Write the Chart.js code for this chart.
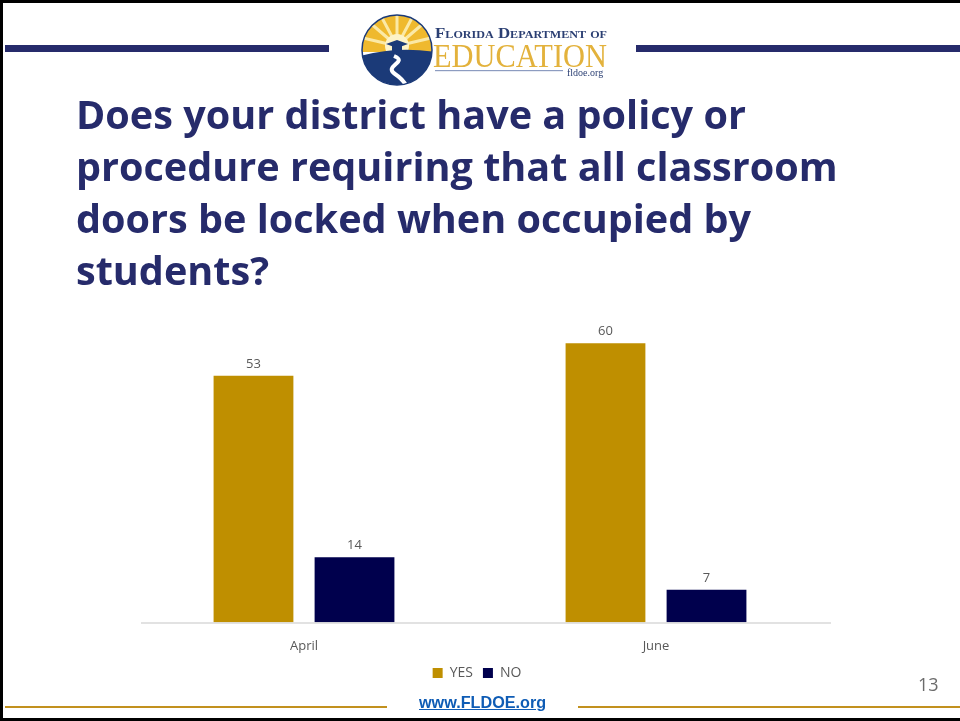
<!DOCTYPE html>
<html>
<head>
<meta charset="utf-8">
<style>
html,body{margin:0;padding:0;background:#fff;}
#page{position:absolute;left:0;top:0;width:960px;height:721px;overflow:hidden;background:#fff;font-family:"Open Sans",sans-serif;}
#page canvas{position:absolute;left:0;top:0;}
.rule{position:absolute;}
h1{position:absolute;left:76px;top:88px;margin:0;width:820px;font-size:39.6px;line-height:52px;font-weight:700;color:#262b6b;}
#num{position:absolute;left:918px;top:672px;font-size:18px;color:#6b6b6b;}
#url{position:absolute;left:419px;top:693px;font:bold 16.2px "Liberation Sans",sans-serif;color:#0f5cb5;text-decoration:underline;}
#logo{position:absolute;left:355px;top:10px;}
</style>
</head>
<body>
<div id="page">
<canvas id="grafico" width="960" height="721"></canvas>
<div class="rule" style="left:0;top:0;width:960px;height:3px;background:#000"></div>
<div class="rule" style="left:5px;top:45px;width:324px;height:7px;background:#262b6b"></div>
<div class="rule" style="left:636px;top:45px;width:324px;height:7px;background:#262b6b"></div>
<div class="rule" style="left:0;top:0;width:3px;height:721px;background:#000"></div>
<div class="rule" style="left:0;top:718px;width:960px;height:3px;background:#000"></div>
<div class="rule" style="left:5px;top:706px;width:382px;height:2px;background:#c2911e"></div>
<div class="rule" style="left:578px;top:706px;width:382px;height:2px;background:#c2911e"></div>
<svg id="logo" width="260" height="80" viewBox="0 0 260 80">
  <defs><clipPath id="cerchio"><circle cx="42" cy="40" r="35"/></clipPath></defs>
  <g clip-path="url(#cerchio)">
    <rect x="5" y="4" width="75" height="38" fill="#efb92e"/>
    <path d="M42 36 L14 12 M42 36 L26 6 M42 36 L42 4 M42 36 L58 6 M42 36 L70 12 M42 36 L8 28 M42 36 L76 28" stroke="#fbe9a6" stroke-width="3"/>
    <circle cx="42" cy="36" r="12" fill="#fdf3c8"/>
    <path d="M5 46 Q42 36 80 42 V78 H5 Z" fill="#1b3a78"/>
    <path d="M39 46 C54 52 28 56 40 64 C46 68 50 72 52 78" fill="none" stroke="#fff" stroke-width="4"/>
    <path d="M31 34 L42 30 L53 34 L42 38 Z" fill="#1b3a78"/>
    <rect x="37" y="36" width="10" height="6" fill="#1b3a78"/>
  </g>
  <circle cx="42" cy="40" r="35" fill="none" stroke="#1b3a78" stroke-width="1.5"/>
  <text x="80" y="28" font-family="Liberation Serif" font-size="14" font-weight="700" fill="#2b3f73" style="font-variant:small-caps" textLength="172" lengthAdjust="spacingAndGlyphs">Florida Department of</text>
  <text x="78" y="57" font-family="Liberation Serif" font-size="34" fill="#e3b23c" textLength="174" lengthAdjust="spacingAndGlyphs">EDUCATION</text>
  <rect x="80" y="60" width="128" height="1.2" fill="#8d9cc0"/>
  <text x="212" y="66" font-family="Liberation Serif" font-size="10" fill="#2b3f73">fldoe.org</text>
</svg>
<h1>Does your district have a policy or<br>procedure requiring that all classroom<br>doors be locked when occupied by<br>students?</h1>
<div id="num">13</div>
<div id="url">www.FLDOE.org</div>
</div>
<script src="https://cdn.jsdelivr.net/npm/chart.js@4/dist/chart.umd.min.js"></script>
<script>
var mesi = ["April", "June"];
var valoriYes = [53, 60];
var valoriNo = [14, 7];
var colori = ["#bf8f00", "#00004d"];

// etichette sopra le barre e linea di base (parte da x=141, non dal bordo dell'area)
var etichette = {
    id: "etichette",
    afterLayout: function (chart) {
        // nell'originale la legenda non e' centrata
        chart.legend.left -= 3;
        chart.legend.right -= 3;
        chart.legend.top -= 6;
        chart.legend.bottom -= 6;
    },
    afterDatasetsDraw: function (chart) {
        var ctx = chart.ctx;
        ctx.save();
        ctx.strokeStyle = "#d9d9d9";
        ctx.lineWidth = 1.5;
        ctx.beginPath();
        ctx.moveTo(141, chart.chartArea.bottom + 0.5);
        ctx.lineTo(831, chart.chartArea.bottom + 0.5);
        ctx.stroke();
        ctx.fillStyle = "#595959";
        ctx.font = "13px 'Open Sans'";
        ctx.textAlign = "center";
        ctx.textBaseline = "bottom";
        chart.data.datasets.forEach(function (ds, i) {
            chart.getDatasetMeta(i).data.forEach(function (bar, j) {
                ctx.fillText(ds.data[j], bar.x, bar.y - 5);
            });
        });
        ctx.restore();
    }
};

new Chart(document.getElementById("grafico"), {
    type: "bar",
    data: {
        labels: mesi,
        datasets: [
            { label: "YES", data: valoriYes, backgroundColor: colori[0] },
            { label: "NO", data: valoriNo, backgroundColor: colori[1] }
        ]
    },
    options: {
        responsive: false,
        animation: false,
        datasets: { bar: { categoryPercentage: 0.574, barPercentage: 0.79 } },
        layout: { padding: { left: 128, right: 128, top: 320, bottom: 25 } },
        scales: {
            x: {
                grid: { display: false },
                border: { display: false },
                ticks: { color: "#595959", font: { family: "Open Sans", size: 13 }, padding: 8 }
            },
            y: { display: false, min: 0, max: 65 }
        },
        plugins: {
            title: { display: false },
            tooltip: { enabled: false },
            legend: {
                position: "bottom",
                labels: { boxWidth: 10, boxHeight: 10, padding: 10, color: "#595959", font: { family: "Open Sans", size: 14 } }
            }
        }
    },
    plugins: [etichette]
});
</script>
</body>
</html>
